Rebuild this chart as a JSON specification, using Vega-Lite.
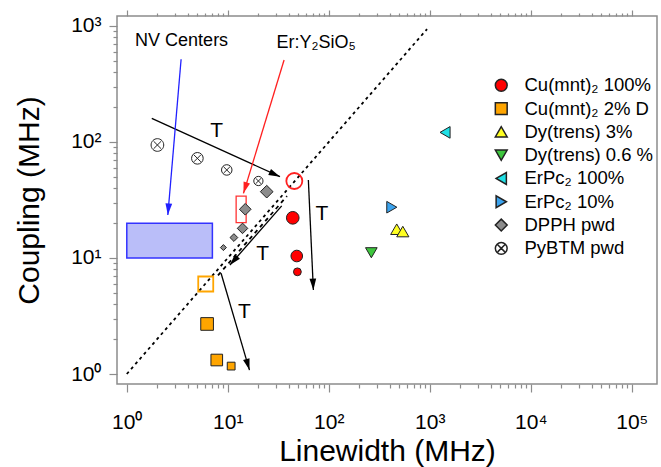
{
"$schema":"https://vega.github.io/schema/vega-lite/v6.json",
"width":540,"height":368,"autosize":"none",
"padding":{"left":117,"top":16,"right":4,"bottom":83},
"background":"white",
"config":{"font":"Liberation Sans","view":{"stroke":"#8c8c8c","strokeWidth":1.5},
 "axis":{"domain":false,"grid":false,"tickColor":"#8c8c8c","tickWidth":1.2,"labelFont":"Liberation Sans","labelFontSize":21,"labelColor":"#000","titleFont":"Liberation Sans","titleFontSize":30,"titleFontWeight":"normal","titleColor":"#000","labelOverlap":false,"labelFlush":false,"labelBound":false}},
"encoding":{
 "x":{"field":"x","type":"quantitative","scale":{"type":"log","domain":[0.8,177900],"nice":false},"axis":null},
 "y":{"field":"y","type":"quantitative","scale":{"type":"log","domain":[0.82,1219],"nice":false},"axis":null}
},
"layer":[
 {"data":{"values":[{"region":"NV Centers","x":1,"x2":7.04,"y":10,"y2":19.9}]},
  "mark":{"type":"rect","fill":"#babef9","stroke":"#3333ff","strokeWidth":1.5},
  "encoding":{"x2":{"field":"x2"},"y2":{"field":"y2"},
   "y":{"field":"y","type":"quantitative","scale":{"type":"log","domain":[0.82,1219],"nice":false},
    "axis":{"orient":"left","values":[2,3,4,5,6,7,8,9,20,30,40,50,60,70,80,90,200,300,400,500,600,700,800,900],"labels":false,"title":null,"tickSize":4}}}},
 {"data":{"values":[{"region":"Er:Y₂SiO₅","x":12.1,"x2":15.2,"y":20.2,"y2":34.2}]},
  "mark":{"type":"rect","fill":"transparent","stroke":"#ff3333","strokeWidth":1.3},
  "encoding":{"x2":{"field":"x2"},"y2":{"field":"y2"},
   "x":{"field":"x","type":"quantitative","scale":{"type":"log","domain":[0.8,177900],"nice":false},
    "axis":{"orient":"top","values":[2,3,4,5,6,7,8,9,20,30,40,50,60,70,80,90,200,300,400,500,600,700,800,900,2000,3000,4000,5000,6000,7000,8000,9000,20000,30000,40000,50000,60000,70000,80000,90000],"labels":false,"title":null,"tickSize":3}}}},
 {"data":{"values":[{"x":1,"y":1},{"x":940,"y":940}]},
  "mark":{"type":"line","color":"#000","strokeDash":[3,3.5],"strokeWidth":1.8},
  "encoding":{"x":{"field":"x","type":"quantitative","scale":{"type":"log","domain":[0.8,177900],"nice":false},
    "axis":{"orient":"top","values":[1,10,100,1000,10000,100000],"labels":false,"title":null,"tickSize":6}}}},
 {"data":{"values":[{"x":8.0,"y":7.08},{"x":38.6,"y":34.2}]},
  "mark":{"type":"line","color":"#000","strokeDash":[4,4],"strokeWidth":1.8}},
 {"data":{"values":[{"x":1.768,"y":160,"x2":32.9,"y2":50.2},{"x":62.8,"y":47.0,"x2":70.4,"y2":5.30},{"x":34.2,"y":28.1,"x2":10.5,"y2":8.70},{"x":8.58,"y":7.38,"x2":16.4,"y2":1.08}]},
  "mark":{"type":"rule","color":"#000","strokeWidth":1.3},
  "encoding":{"x2":{"field":"x2"},"y2":{"field":"y2"},
   "x":{"field":"x","type":"quantitative","scale":{"type":"log","domain":[0.8,177900],"nice":false},
    "axis":{"orient":"bottom","values":[2,3,4,5,6,7,8,9,20,30,40,50,60,70,80,90,200,300,400,500,600,700,800,900,2000,3000,4000,5000,6000,7000,8000,9000,20000,30000,40000,50000,60000,70000,80000,90000],"labels":false,"title":null,"tickSize":4}}}},
 {"data":{"values":[{"x":3.45,"y":516,"x2":2.55,"y2":23.5}]},
  "mark":{"type":"rule","color":"#2020ff","strokeWidth":1.3},
  "encoding":{"x2":{"field":"x2"},"y2":{"field":"y2"}}},
 {"data":{"values":[{"x":36.1,"y":509,"x2":14.3,"y2":36.1}]},
  "mark":{"type":"rule","color":"#ff2020","strokeWidth":1.3},
  "encoding":{"x2":{"field":"x2"},"y2":{"field":"y2"}}},
 {"data":{"values":[{"x":32.9,"y":50.2}]},
  "mark":{"type":"point","shape":"M 0 0 L 0.5 1.7 L -0.5 1.7 Z","filled":true,"color":"#000","size":180,"angle":114.5,"opacity":1}},
 {"data":{"values":[{"x":70.4,"y":5.30}]},
  "mark":{"type":"point","shape":"M 0 0 L 0.5 1.7 L -0.5 1.7 Z","filled":true,"color":"#000","size":180,"angle":177.4,"opacity":1}},
 {"data":{"values":[{"x":10.5,"y":8.70}]},
  "mark":{"type":"point","shape":"M 0 0 L 0.5 1.7 L -0.5 1.7 Z","filled":true,"color":"#000","size":180,"angle":221.2,"opacity":1}},
 {"data":{"values":[{"x":16.4,"y":1.08}]},
  "mark":{"type":"point","shape":"M 0 0 L 0.5 1.7 L -0.5 1.7 Z","filled":true,"color":"#000","size":180,"angle":163.7,"opacity":1}},
 {"data":{"values":[{"x":2.55,"y":23.5}]},
  "mark":{"type":"point","shape":"M 0 0 L 0.5 1.7 L -0.5 1.7 Z","filled":true,"color":"#2020ff","size":180,"angle":184.9,"opacity":1}},
 {"data":{"values":[{"x":14.3,"y":36.1}]},
  "mark":{"type":"point","shape":"M 0 0 L 0.5 1.7 L -0.5 1.7 Z","filled":true,"color":"#ff2020","size":180,"angle":197,"opacity":1}},
 {"data":{"values":[{"series":"Cu(mnt)₂ 100%","x":45.6,"y":46.1}]},
  "mark":{"type":"point","shape":"circle","filled":false,"stroke":"#ff2020","strokeWidth":1.8,"size":256,"opacity":1}},
 {"data":{"values":[{"series":"Cu(mnt)₂ 2% D","x":6.05,"y":5.97}]},
  "mark":{"type":"point","shape":"square","filled":false,"stroke":"#ffa500","strokeWidth":1.8,"size":225,"opacity":1}},
 {"data":{"values":[
   {"series":"Cu(mnt)₂ 100%","x":44,"y":22.2,"step":3},
   {"series":"Cu(mnt)₂ 100%","x":48.2,"y":10.4,"step":4},
   {"series":"Cu(mnt)₂ 100%","x":48.9,"y":7.6,"step":7},
   {"series":"Cu(mnt)₂ 2% D","x":6.24,"y":2.7,"step":3},
   {"series":"Cu(mnt)₂ 2% D","x":7.78,"y":1.32,"step":4},
   {"series":"Cu(mnt)₂ 2% D","x":10.8,"y":1.17,"step":7},
   {"series":"Dy(trens) 3%","x":471,"y":17.7,"step":3.5},
   {"series":"Dy(trens) 3%","x":541,"y":16.9,"step":3.5},
   {"series":"Dy(trens) 0.6 %","x":264,"y":11.1,"step":4},
   {"series":"ErPc₂ 100%","x":1417,"y":121,"step":4},
   {"series":"ErPc₂ 10%","x":421,"y":27.4,"step":4},
   {"series":"DPPH pwd","x":24.3,"y":37.3,"step":3},
   {"series":"DPPH pwd","x":14.9,"y":26.3,"step":4},
   {"series":"DPPH pwd","x":14.0,"y":18.0,"step":5},
   {"series":"DPPH pwd","x":11.5,"y":15.0,"step":7},
   {"series":"DPPH pwd","x":9.05,"y":12.3,"step":8},
   {"series":"PyBTM pwd","x":2.01,"y":94.2,"step":3},
   {"series":"PyBTM pwd","x":5.0,"y":72.3,"step":4},
   {"series":"PyBTM pwd","x":9.77,"y":57.4,"step":5},
   {"series":"PyBTM pwd","x":20.1,"y":46.1,"step":6}
  ]},
  "mark":{"type":"point","filled":true,"stroke":"#222","strokeWidth":1,"opacity":1},
  "encoding":{
   "x":{"field":"x","type":"quantitative","scale":{"type":"log","domain":[0.8,177900],"nice":false},
    "axis":{"orient":"bottom","values":[1,10,100,1000,10000,100000],
     "labelExpr":"'10' + ['⁰','¹','²','³','⁴','⁵'][round(log(datum.value)/LN10)]",
     "tickSize":8,"labelPadding":19,"title":"Linewidth (MHz)","titleX":270,"titleY":76,"titleBaseline":"alphabetic","titleAlign":"center"}},
   "y":{"field":"y","type":"quantitative","scale":{"type":"log","domain":[0.82,1219],"nice":false},
    "axis":{"orient":"left","values":[1,10,100,1000],
     "labelExpr":"'10' + ['⁰','¹','²','³','⁴','⁵'][round(log(datum.value)/LN10)]",
     "tickSize":8,"labelPadding":8,"title":"Coupling (MHz)","titleX":-79,"titleY":184,"titleBaseline":"alphabetic","titleAlign":"center","titleAngle":270}},
   "fill":{"field":"series","type":"nominal",
    "scale":{"domain":["Cu(mnt)₂ 100%","Cu(mnt)₂ 2% D","Dy(trens) 3%","Dy(trens) 0.6 %","ErPc₂ 100%","ErPc₂ 10%","DPPH pwd","PyBTM pwd"],
     "range":["#ff0000","#ffa500","#ffff22","#3ec63e","#1fe0e6","#3ba3ee","#8c8c8c","#ffffff"]},
    "legend":{"orient":"none","legendX":375,"legendY":60,"title":null,"labelFontSize":18.5,"labelFont":"Liberation Sans","labelColor":"#000","symbolSize":140,"rowPadding":4.3,"labelOffset":14,"padding":0,
     "encode":{"symbols":{"update":{"stroke":{"value":"#222"},"strokeWidth":{"value":1}}}}}},
   "shape":{"field":"series","type":"nominal",
    "scale":{"domain":["Cu(mnt)₂ 100%","Cu(mnt)₂ 2% D","Dy(trens) 3%","Dy(trens) 0.6 %","ErPc₂ 100%","ErPc₂ 10%","DPPH pwd","PyBTM pwd"],
     "range":["circle","square","triangle-up","triangle-down","triangle-left","triangle-right","diamond","M -1 0 A 1 1 0 1 0 1 0 A 1 1 0 1 0 -1 0 Z M -0.6 -0.6 L 0.6 0.6 M -0.6 0.6 L 0.6 -0.6"]},
    "legend":{"orient":"none","legendX":375,"legendY":60,"title":null,"labelFontSize":18.5,"labelFont":"Liberation Sans","labelColor":"#000","symbolSize":140,"rowPadding":4.3,"labelOffset":14,"padding":0,
     "encode":{"symbols":{"update":{"stroke":{"value":"#222"},"strokeWidth":{"value":1}}}}}},
   "size":{"field":"step","type":"quantitative","scale":{"domain":[1,8],"range":[210,36]},"legend":null}
  }},
 {"data":{"values":[{"label":"T","x":7.78,"y":111},{"label":"T","x":85.3,"y":21.3},{"label":"T","x":22.1,"y":9.61},{"label":"T","x":14.6,"y":3.02}]},
  "mark":{"type":"text","fontSize":21,"baseline":"alphabetic","align":"center","color":"#000"},
  "encoding":{"text":{"field":"label"}}},
 {"data":{"values":[{"label":"NV Centers","x":3.49,"y":672},{"label":"Er:Y₂SiO₅","x":74.8,"y":646}]},
  "mark":{"type":"text","fontSize":18,"baseline":"alphabetic","align":"center","color":"#000"},
  "encoding":{"text":{"field":"label"}}}
],
"resolve":{"axis":{"x":"independent","y":"independent"}}
}
